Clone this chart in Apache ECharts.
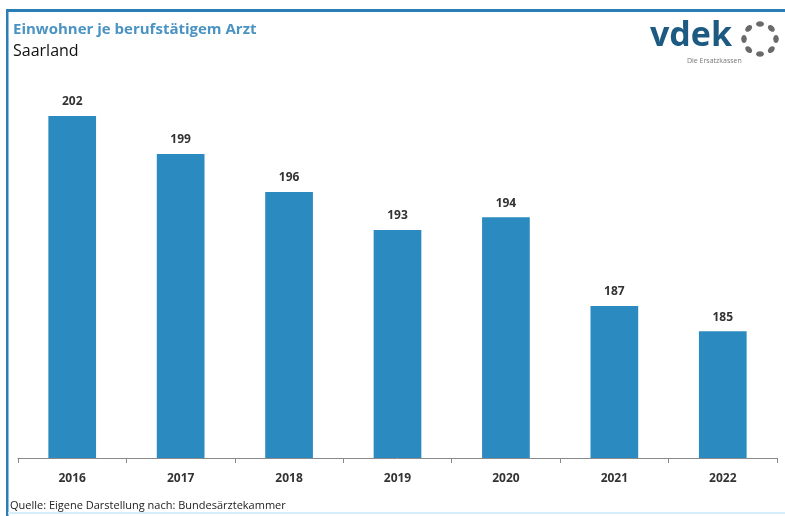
<!DOCTYPE html>
<html>
<head>
<meta charset="utf-8">
<script src="https://cdn.jsdelivr.net/npm/echarts@6/dist/echarts.min.js"></script>
<style>
  html, body { margin: 0; padding: 0; background: #fff; }
  #chart { width: 785px; height: 516px; }
</style>
</head>
<body>
<div id="chart"></div>
<script>
// Einwohner je berufstätigem Arzt, Saarland
var years = ['2016', '2017', '2018', '2019', '2020', '2021', '2022'];
var einwohnerJeArzt = [202, 199, 196, 193, 194, 187, 185];

var FONT = '"Open Sans", "DejaVu Sans", sans-serif';

// grauer Punktring vom vdek-Logo
var ringDots = [];
for (var i = 0; i < 8; i++) {
    var a = i * Math.PI / 4 - Math.PI / 2;
    var cx = 760 + 16 * Math.cos(a);
    var cy = 39 + 15 * Math.sin(a);
    ringDots.push({
        type: 'ellipse',
        shape: { cx: cx, cy: cy, rx: 4, ry: 2.8 },
        rotation: -a - Math.PI / 2,
        originX: cx,
        originY: cy,
        style: { fill: '#6a6a6a' }
    });
}

var chart = echarts.init(document.getElementById('chart'));
chart.setOption({
    animation: false,
    backgroundColor: '#fff',
    grid: { left: 18, right: 8, top: 78, bottom: 58 },
    xAxis: {
        type: 'category',
        data: years,
        axisLine: { lineStyle: { color: '#8a8a8a', width: 1 } },
        axisTick: { show: true, length: 5, lineStyle: { color: '#8a8a8a' } },
        axisLabel: { color: '#333', fontWeight: 'bold', fontSize: 12, fontFamily: FONT, margin: 15 }
    },
    yAxis: {
        type: 'value',
        min: 175,
        max: 205,
        show: false
    },
    series: [{
        type: 'bar',
        data: einwohnerJeArzt,
        barWidth: '44%',
        itemStyle: { color: '#2b8bc1' },
        label: {
            show: true,
            position: 'top',
            distance: 8,
            color: '#333',
            fontWeight: 'bold',
            fontSize: 12,
            fontFamily: FONT
        }
    }],
    graphic: [
        // Rahmen
        { type: 'rect', shape: { x: 6, y: 9, width: 779, height: 3 }, style: { fill: '#2a7db5' } },
        { type: 'rect', shape: { x: 6, y: 9, width: 2.5, height: 507 }, style: { fill: '#2a7db5' } },
        { type: 'rect', shape: { x: 8, y: 512, width: 777, height: 2 }, style: { fill: '#d6eef9' } },
        // Titel
        { type: 'text', left: 13, top: 22,
          style: { text: 'Einwohner je berufstätigem Arzt', fill: '#4a93c2', font: 'bold 15px ' + FONT } },
        { type: 'text', left: 13, top: 43,
          style: { text: 'Saarland', fill: '#111', font: '16px ' + FONT } },
        // Logo
        { type: 'text', left: 650, top: 19,
          style: { text: 'vdek', fill: '#1d5a82', font: 'bold 34px ' + FONT } },
        { type: 'text', left: 687, top: 57,
          style: { text: 'Die Ersatzkassen', fill: '#777', font: '7px ' + FONT } },
        { type: 'group', children: ringDots },
        // Quelle
        { type: 'text', left: 10, top: 500,
          style: { text: 'Quelle: Eigene Darstellung nach: Bundesärztekammer', fill: '#222', font: '11px ' + FONT } }
    ]
});
</script>
</body>
</html>
